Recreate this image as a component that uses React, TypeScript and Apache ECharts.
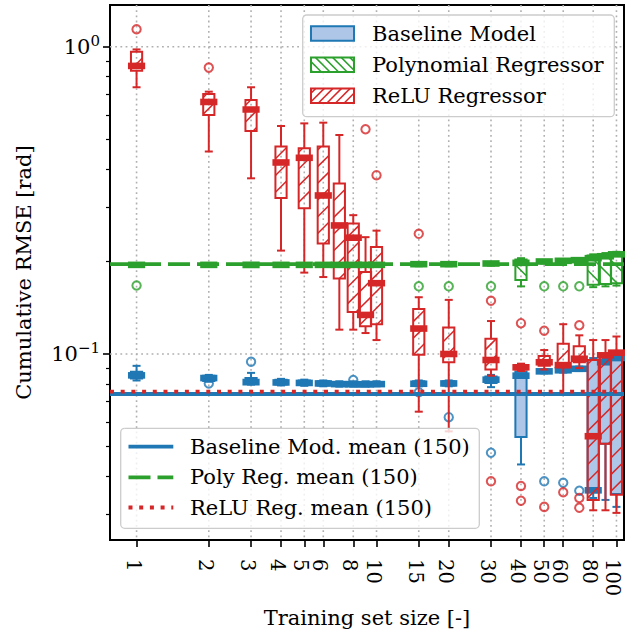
import React, { useEffect, useRef } from "react";
import * as echarts from "echarts";

// ---------------- data ----------------
const trainingSizes = [1, 2, 3, 4, 5, 6, 7, 8, 9, 10, 15, 20, 30, 40, 50, 60, 70, 80, 90, 100];
const xTickValues = [1, 2, 3, 4, 5, 6, 8, 10, 15, 20, 30, 40, 50, 60, 80, 100];
const yMajorTicks = [0.1, 1];
const yMinorTicks = [0.03, 0.04, 0.05, 0.06, 0.07, 0.08, 0.09, 0.2, 0.3, 0.4, 0.5, 0.6, 0.7, 0.8, 0.9];

// [lower whisker, Q1, median, Q3, upper whisker]
const baselineBoxes = [
  [0.082, 0.0832, 0.0852, 0.0875, 0.0915],
  [0.0812, 0.0817, 0.0835, 0.085, 0.0855],
  [0.0795, 0.08, 0.081, 0.0835, 0.0868],
  [0.079, 0.0795, 0.0808, 0.0825, 0.083],
  [0.0788, 0.0792, 0.0805, 0.082, 0.0825],
  [0.0785, 0.079, 0.0802, 0.0815, 0.082],
  [0.0783, 0.0788, 0.0798, 0.081, 0.0815],
  [0.0783, 0.0787, 0.0797, 0.081, 0.0815],
  [0.0783, 0.0787, 0.0797, 0.081, 0.0815],
  [0.0785, 0.0788, 0.0798, 0.081, 0.0815],
  [0.0785, 0.079, 0.08, 0.0815, 0.082],
  [0.0785, 0.079, 0.0802, 0.0815, 0.082],
  [0.078, 0.0805, 0.0825, 0.0845, 0.0855],
  [0.0437, 0.0537, 0.085, 0.0875, 0.088],
  [0.0865, 0.087, 0.0878, 0.0885, 0.089],
  [0.087, 0.0875, 0.0885, 0.0893, 0.09],
  [0.088, 0.0885, 0.0895, 0.0905, 0.091],
  [0.034, 0.0355, 0.036, 0.0956, 0.097],
  [0.0335, 0.051, 0.094, 0.0956, 0.097],
  [0.0318, 0.035, 0.097, 0.098, 0.099],
];
const polyBoxes = [
  [0.193, 0.194, 0.195, 0.196, 0.197],
  [0.193, 0.194, 0.195, 0.196, 0.197],
  [0.193, 0.194, 0.195, 0.196, 0.197],
  [0.193, 0.194, 0.195, 0.196, 0.197],
  [0.193, 0.194, 0.195, 0.196, 0.197],
  [0.193, 0.194, 0.195, 0.196, 0.197],
  [0.193, 0.194, 0.195, 0.196, 0.197],
  [0.193, 0.194, 0.195, 0.196, 0.197],
  [0.193, 0.194, 0.195, 0.196, 0.197],
  [0.193, 0.194, 0.195, 0.196, 0.197],
  [0.193, 0.194, 0.196, 0.197, 0.198],
  [0.193, 0.194, 0.196, 0.197, 0.198],
  [0.194, 0.195, 0.197, 0.198, 0.199],
  [0.166, 0.174, 0.198, 0.203, 0.205],
  [0.197, 0.198, 0.2, 0.201, 0.202],
  [0.198, 0.199, 0.201, 0.202, 0.203],
  [0.199, 0.2, 0.202, 0.203, 0.204],
  [0.165, 0.168, 0.205, 0.209, 0.211],
  [0.166, 0.169, 0.208, 0.211, 0.213],
  [0.167, 0.17, 0.211, 0.213, 0.215],
];
const reluBoxes = [
  [0.738, 0.835, 0.866, 0.963, 0.98],
  [0.456, 0.6, 0.661, 0.702, 0.714],
  [0.373, 0.532, 0.625, 0.671, 0.738],
  [0.217, 0.322, 0.42, 0.473, 0.552],
  [0.184, 0.298, 0.435, 0.467, 0.563],
  [0.178, 0.229, 0.328, 0.473, 0.566],
  [0.12, 0.176, 0.262, 0.359, 0.516],
  [0.12, 0.137, 0.239, 0.266, 0.283],
  [0.117, 0.123, 0.134, 0.185, 0.24],
  [0.111, 0.125, 0.17, 0.223, 0.252],
  [0.0649, 0.0994, 0.121, 0.14, 0.153],
  [0.056, 0.094, 0.1, 0.122, 0.15],
  [0.085, 0.089, 0.0956, 0.112, 0.128],
  [0.088, 0.089, 0.0905, 0.092, 0.093],
  [0.089, 0.0915, 0.094, 0.0985, 0.103],
  [0.0745, 0.0905, 0.092, 0.108, 0.125],
  [0.09, 0.094, 0.0965, 0.106, 0.115],
  [0.031, 0.0335, 0.054, 0.0956, 0.111],
  [0.031, 0.051, 0.099, 0.0995, 0.111],
  [0.0304, 0.0348, 0.101, 0.102, 0.114],
];

// outliers [training size, value]
const baselineOutliers = [
  [2, 0.0802], [3, 0.0943], [8, 0.0823], [15, 0.0751], [20, 0.0623],
  [30, 0.0477], [50, 0.0385], [60, 0.0381], [70, 0.0359],
];
const polyOutliers = [
  [1, 0.167], [15, 0.166], [20, 0.166], [30, 0.166], [50, 0.166], [60, 0.166], [70, 0.166],
];
const reluOutliers = [
  [1, 1.139], [2, 0.855], [9, 0.539], [10, 0.382], [15, 0.246], [30, 0.149], [30, 0.0385],
  [40, 0.126], [40, 0.0372], [40, 0.0333], [50, 0.119], [50, 0.0318], [60, 0.0355],
  [70, 0.124], [70, 0.034], [70, 0.0316],
];

const baselineMean = 0.0741;
const polyMean = 0.196;
const reluMean = 0.0754;

const upperLegendLabels = ["Baseline Model", "Polynomial Regressor", "ReLU Regressor"];
const lowerLegendLabels = ["Baseline Mod. mean (150)", "Poly Reg. mean (150)", "ReLU Reg. mean (150)"];

// ---------------- styles ----------------
const X_MIN = 0.775;
const X_MAX = 107.5;
const Y_MIN = 0.02481;
const Y_MAX = 1.367;
const BLUE = "#1f77b4";
const BLUE_FILL = "#aec7e8";
const GREEN = "#2ca02c";
const RED = "#d62728";
const FONT = "DejaVu Serif";
const DASH = [22, 7];
const DOT = [4, 6.7];

function hatchSegments(x0: number, y0: number, x1: number, y1: number, spacing: number, dir: number) {
  const segs: number[][] = [];
  if (dir === 1) {
    const cStart = Math.ceil((x0 + y0) / spacing) * spacing;
    for (let c = cStart; c <= x1 + y1; c += spacing) {
      const xa = Math.max(x0, c - y1);
      const xb = Math.min(x1, c - y0);
      if (xb > xa + 0.3) segs.push([xa, c - xa, xb, c - xb]);
    }
  } else if (dir === -1) {
    const cStart = Math.ceil((y0 - x1) / spacing) * spacing;
    for (let c = cStart; c <= y1 - x0; c += spacing) {
      const xa = Math.max(x0, y0 - c);
      const xb = Math.min(x1, y1 - c);
      if (xb > xa + 0.3) segs.push([xa, xa + c, xb, xb + c]);
    }
  }
  return segs;
}

function makeBoxRenderer(color: string, fill: string, hatchDir: number) {
  return (params: any, api: any) => {
    const x = api.value(0);
    const pLow = api.coord([x, api.value(1)]);
    const pQ1 = api.coord([x, api.value(2)]);
    const pMed = api.coord([x, api.value(3)]);
    const pQ3 = api.coord([x, api.value(4)]);
    const pHigh = api.coord([x, api.value(5)]);
    const cx = pLow[0];
    const hw = 5.6;
    const cw = 3;
    const mw = 8.6;
    const lw = 2;
    const children: any[] = [];
    children.push({ type: "line", shape: { x1: cx, y1: pQ1[1], x2: cx, y2: pLow[1] }, style: { stroke: color, lineWidth: lw } });
    children.push({ type: "line", shape: { x1: cx, y1: pQ3[1], x2: cx, y2: pHigh[1] }, style: { stroke: color, lineWidth: lw } });
    children.push({ type: "line", shape: { x1: cx - cw, y1: pLow[1], x2: cx + cw, y2: pLow[1] }, style: { stroke: color, lineWidth: lw, lineCap: "square" } });
    children.push({ type: "line", shape: { x1: cx - cw, y1: pHigh[1], x2: cx + cw, y2: pHigh[1] }, style: { stroke: color, lineWidth: lw, lineCap: "square" } });
    const top = pQ3[1];
    const bot = pQ1[1];
    children.push({
      type: "rect",
      shape: { x: cx - hw, y: top, width: 2 * hw, height: Math.max(bot - top, 0.5) },
      style: { fill: fill, stroke: "none" },
    });
    if (hatchDir !== 0) {
      hatchSegments(cx - hw, top, cx + hw, bot, 16.7, hatchDir).forEach((s) => {
        children.push({ type: "line", shape: { x1: s[0], y1: s[1], x2: s[2], y2: s[3] }, style: { stroke: color, lineWidth: 1.5 } });
      });
    }
    children.push({
      type: "rect",
      shape: { x: cx - hw, y: top, width: 2 * hw, height: Math.max(bot - top, 0.5) },
      style: { fill: "none", stroke: color, lineWidth: lw },
    });
    children.push({
      type: "rect",
      shape: { x: cx - mw, y: pMed[1] - 3.3, width: 2 * mw, height: 6.6 },
      style: { fill: color, stroke: "none" },
    });
    return { type: "group", children };
  };
}

function boxData(boxes: number[][]) {
  return trainingSizes.map((s, i) => [s, ...boxes[i]]);
}

function legendPatch(x: number, y: number, w: number, h: number, color: string, fill: string, dir: number) {
  const els: any[] = [];
  els.push({ type: "rect", shape: { x, y, width: w, height: h }, style: { fill, stroke: "none" }, z: 101 });
  hatchSegments(x, y, x + w, y + h, 8.6, dir).forEach((s) => {
    els.push({ type: "line", shape: { x1: s[0], y1: s[1], x2: s[2], y2: s[3] }, style: { stroke: color, lineWidth: 1.5 }, z: 101 });
  });
  els.push({ type: "rect", shape: { x, y, width: w, height: h }, style: { fill: "none", stroke: color, lineWidth: 2 }, z: 102 });
  return els;
}

function buildGraphic() {
  const els: any[] = [];
  // upper legend
  els.push({
    type: "rect",
    shape: { x: 302.7, y: 15, width: 311.6, height: 101.7, r: 4 },
    style: { fill: "rgba(255,255,255,0.8)", stroke: "#cccccc", lineWidth: 1.3 },
    z: 100,
  });
  const upColors = [BLUE, GREEN, RED];
  const upFills = [BLUE_FILL, "none", "none"];
  const upDirs = [0, -1, 1];
  const upRows = [33.5, 64.7, 95.7];
  upperLegendLabels.forEach((lab, i) => {
    legendPatch(311, upRows[i] - 7.3, 43, 14.6, upColors[i], upFills[i], upDirs[i]).forEach((e) => els.push(e));
    els.push({
      type: "text",
      x: 372,
      y: upRows[i],
      style: { text: lab, fontSize: 21, fontFamily: FONT, fill: "#000", verticalAlign: "middle", align: "left" },
      z: 102,
    });
  });
  // lower legend
  els.push({
    type: "rect",
    shape: { x: 120.7, y: 428.3, width: 358.6, height: 100, r: 4 },
    style: { fill: "rgba(255,255,255,0.8)", stroke: "#cccccc", lineWidth: 1.3 },
    z: 100,
  });
  const loRows = [446.7, 477.3, 507.5];
  const loColors = [BLUE, GREEN, RED];
  const loDash: any[] = [null, DASH, DOT];
  lowerLegendLabels.forEach((lab, i) => {
    els.push({
      type: "line",
      shape: { x1: 128.5, y1: loRows[i], x2: 173.3, y2: loRows[i] },
      style: { stroke: loColors[i], lineWidth: 3.8, lineDash: loDash[i] || undefined, lineCap: "butt" },
      z: 101,
    });
    els.push({
      type: "text",
      x: 190,
      y: loRows[i],
      style: { text: lab, fontSize: 21, fontFamily: FONT, fill: "#000", verticalAlign: "middle", align: "left" },
      z: 102,
    });
  });
  return els;
}

function meanSeries(name: string, value: number, color: string, type: any, z: number) {
  return {
    type: "line",
    name,
    data: [[X_MIN, value], [X_MAX, value]],
    symbol: "none",
    silent: true,
    lineStyle: { color, width: 3.8, type, cap: "butt" },
    z,
  };
}

function outlierSeries(data: number[][], color: string, z: number) {
  return {
    type: "scatter",
    data,
    symbol: "circle",
    symbolSize: 8.4,
    itemStyle: { color: "rgba(0,0,0,0)", borderColor: color, borderWidth: 2 },
    z,
    silent: true,
  };
}

export default function App() {
  const ref = useRef<HTMLDivElement>(null);
  useEffect(() => {
    if (!ref.current) return;
    const chart = echarts.init(ref.current, undefined, { renderer: "svg" });
    const option: any = {
      animation: false,
      backgroundColor: "#ffffff",
      grid: {
        left: 110,
        top: 5,
        width: 514,
        height: 535,
        show: true,
        borderColor: "#000",
        borderWidth: 2,
        backgroundColor: "transparent",
      },
      xAxis: {
        type: "log",
        logBase: 10,
        min: X_MIN,
        max: X_MAX,
        name: "Training set size [-]",
        nameLocation: "middle",
        nameGap: 67,
        nameTextStyle: { fontSize: 21, fontFamily: FONT, color: "#000" },
        axisLine: { show: true, lineStyle: { color: "#000", width: 2 } },
        axisTick: { show: true, customValues: xTickValues, length: 7, lineStyle: { color: "#000", width: 1.6 } },
        axisLabel: {
          show: true,
          customValues: xTickValues,
          rotate: -90,
          margin: 19,
          fontSize: 19.5,
          lineHeight: 7,
          verticalAlign: "top",
          fontFamily: FONT,
          color: "#000",
          formatter: (v: number) => String(Math.round(v)),
        },
        splitLine: { show: false },
        minorTick: { show: false },
      },
      yAxis: [
        {
          type: "log",
          logBase: 10,
          min: Y_MIN,
          max: Y_MAX,
          name: "Cumulative RMSE [rad]",
          nameLocation: "middle",
          nameGap: 76,
          nameTextStyle: { fontSize: 21, fontFamily: FONT, color: "#000" },
          axisLine: { show: true, lineStyle: { color: "#000", width: 2 } },
          axisTick: { show: true, customValues: yMajorTicks, length: 7, lineStyle: { color: "#000", width: 1.6 } },
          axisLabel: {
            show: true,
            customValues: yMajorTicks,
            margin: 10,
            formatter: (v: number) => {
              const e = Math.round(Math.log10(v));
              return "{b|10}{s|" + (e < 0 ? "\u2212" + -e : String(e)) + "}";
            },
            rich: {
              b: { fontSize: 21, fontFamily: FONT, color: "#000", lineHeight: 26 },
              s: { fontSize: 15, fontFamily: FONT, color: "#000", verticalAlign: "top", lineHeight: 16 },
            },
          },
          splitLine: { show: false },
          minorTick: { show: false },
        },
        {
          type: "log",
          logBase: 10,
          min: Y_MIN,
          max: Y_MAX,
          position: "left",
          axisLine: { show: false },
          axisTick: { show: true, customValues: yMinorTicks, length: 4, lineStyle: { color: "#000", width: 1.2 } },
          axisLabel: { show: false },
          splitLine: { show: false },
          minorTick: { show: false },
        },
      ],
      graphic: buildGraphic(),
      series: [
        {
          type: "custom",
          data: xTickValues.map((v) => [v, 1]),
          silent: true,
          z: 1,
          renderItem: (params: any, api: any) => {
            const cs = params.coordSys;
            const px = api.coord([api.value(0), 1])[0];
            return {
              type: "line",
              shape: { x1: px, y1: cs.y, x2: px, y2: cs.y + cs.height },
              style: { stroke: "#b0b0b0", lineWidth: 1.6, lineDash: [1.8, 3.4] },
            };
          },
        },
        {
          type: "custom",
          data: yMajorTicks.map((v) => [1, v]),
          silent: true,
          z: 1,
          renderItem: (params: any, api: any) => {
            const cs = params.coordSys;
            const py = api.coord([1, api.value(1)])[1];
            return {
              type: "line",
              shape: { x1: cs.x, y1: py, x2: cs.x + cs.width, y2: py },
              style: { stroke: "#b0b0b0", lineWidth: 1.6, lineDash: [1.8, 3.4] },
            };
          },
        },
        {
          type: "custom",
          name: "Baseline Model",
          data: boxData(baselineBoxes),
          encode: { x: 0, y: [1, 2, 3, 4, 5] },
          renderItem: makeBoxRenderer(BLUE, BLUE_FILL, 0),
          silent: true,
          z: 2,
        },
        outlierSeries(baselineOutliers, BLUE, 3),
        {
          type: "custom",
          name: "ReLU Regressor",
          data: boxData(reluBoxes),
          encode: { x: 0, y: [1, 2, 3, 4, 5] },
          renderItem: makeBoxRenderer(RED, "none", 1),
          silent: true,
          z: 4,
        },
        outlierSeries(reluOutliers, RED, 5),
        {
          type: "custom",
          name: "Polynomial Regressor",
          data: boxData(polyBoxes),
          encode: { x: 0, y: [1, 2, 3, 4, 5] },
          renderItem: makeBoxRenderer(GREEN, "none", -1),
          silent: true,
          z: 6,
        },
        outlierSeries(polyOutliers, GREEN, 7),
        meanSeries("Baseline Mod. mean", baselineMean, BLUE, "solid", 8),
        meanSeries("Poly Reg. mean", polyMean, GREEN, DASH, 9),
        meanSeries("ReLU Reg. mean", reluMean, RED, DOT, 10),
      ],
    };
    chart.setOption(option);
    return () => chart.dispose();
  }, []);
  return <div ref={ref} style={{ position: "absolute", left: 0, top: 0, width: 625, height: 635 }} />;
}
